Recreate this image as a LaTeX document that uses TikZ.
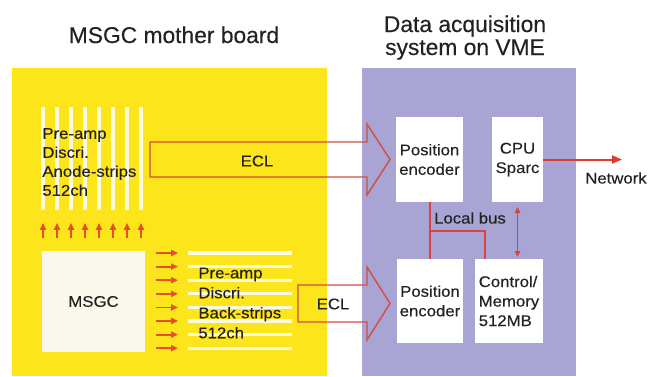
\documentclass[tikz,border=0pt]{standalone}
\usepackage{fontspec}
\setmainfont{Liberation Sans}
\newfontfamily\labelfont{Liberation Sans}[FakeStretch=1.08,FakeBold=0.3]
\newfontfamily\titlefont{Liberation Sans}[FakeBold=0.3]
\usetikzlibrary{arrows.meta}

\definecolor{boardyellow}{RGB}{252,229,26}
\definecolor{vmepurple}{RGB}{168,164,212}
\definecolor{stripwhite}{RGB}{255,251,226}
\definecolor{chipwhite}{RGB}{250,248,236}
\definecolor{feedred}{RGB}{230,80,38}
\definecolor{eclred}{RGB}{212,78,62}
\definecolor{busred}{RGB}{220,66,66}
\definecolor{netred}{RGB}{222,58,50}
\definecolor{inkgray}{RGB}{34,34,34}

\begin{document}
\begin{tikzpicture}[x=0.5pt,y=-0.5pt,
  board/.style={inner sep=0pt, outer sep=0pt},
  unit/.style={fill=white, inner sep=0pt, outer sep=0pt, align=center,
    text=inkgray, font=\labelfont\fontsize{7.75}{9.75}\selectfont},
  lbl/.style={inner sep=0pt, text=inkgray,
    font=\labelfont\fontsize{7.75}{9.5}\selectfont},
  widelbl/.style={lbl, font=\labelfont\fontsize{7.75}{10}\selectfont},
  title/.style={inner sep=0pt, text=inkgray, font=\titlefont\fontsize{11.4}{11.5}\selectfont},
  strip/.style={draw=stripwhite, line width=1.6pt},
  feed/.style={draw=feedred, line width=0.9pt, -{Triangle[length=3.4pt,width=3pt]}},
  ecl/.style={draw=eclred, line width=0.7pt, line join=miter},
  bus/.style={draw=busred, line width=0.9pt},
  link/.style={draw=busred, line width=0.6pt,
    {Triangle[length=3pt,width=2.8pt]}-{Triangle[length=3pt,width=2.8pt]}},
  net/.style={draw=netred, line width=1pt, -{Triangle[length=5pt,width=4pt]}}
]
\useasboundingbox (0,0) rectangle (660,376);

% titles
\node[title, anchor=base] (title1) at (174,43) {MSGC mother board};
\node[title, anchor=base] (title2a) at (465,32) {Data acquisition};
\node[title, anchor=base] (title2b) at (465,55) {system on VME};

% the two boards
\node[board, fill=boardyellow, minimum width=157.5pt, minimum height=154pt]
  (mother) at (169.5,222) {};
\node[board, fill=vmepurple, minimum width=107pt, minimum height=154pt]
  (vme) at (469,222) {};

% anode strips (vertical) and their read-out arrows
\foreach \i in {0,...,7} {
  \draw[strip] (43+14*\i,107) -- (43+14*\i,210);
  \draw[feed] (43+14*\i,238) -- (43+14*\i,223);
}

% back strips (horizontal) and their read-out arrows
\foreach \i in {0,...,7} {
  \draw[strip] (188,253+13.6*\i) -- (292,253+13.6*\i);
  \draw[feed] (156,253+13.6*\i) -- (178,253+13.6*\i);
}

% detector chip
\node[unit, fill=chipwhite, minimum width=51.5pt, minimum height=50.5pt]
  (msgc) at (93.5,301.5) {MSGC};

% front-end labels
\node[lbl, align=left, anchor=west] (anodetxt) at (42,162)
  {Pre-amp\\Discri.\\Anode-strips\\512ch};
\node[widelbl, align=left, anchor=west] (backtxt) at (198,303)
  {Pre-amp\\Discri.\\Back-strips\\512ch};

% ECL block arrows
\draw[ecl] (150,142) -- (367,142) -- (367,124) -- (390,159.5)
  -- (367,195) -- (367,177) -- (150,177) -- cycle;
\node[lbl] (ecl1) at (257,161) {ECL};
\draw[ecl] (298,285) -- (367,285) -- (367,267) -- (390,303.5)
  -- (367,340) -- (367,322) -- (298,322) -- cycle;
\node[lbl] (ecl2) at (333,304) {ECL};

% VME modules
\node[unit, minimum width=33.5pt, minimum height=42.5pt]
  (pe1) at (429.5,159.5) {Position\\encoder};
\node[unit, minimum width=25.5pt, minimum height=42.5pt]
  (cpu) at (517.5,159.5) {CPU\\Sparc};
\node[unit, minimum width=33pt, minimum height=42pt]
  (pe2) at (430,301) {Position\\encoder};
\node[unit, align=left, minimum width=34pt, minimum height=42pt]
  (ctl) at (509,301) {Control/\\Memory\\512MB};

% local bus
\coordinate (busL) at (430,231);
\coordinate (busR) at (485,231);
\draw[bus] (pe1.south -| busL) -- (pe2.north -| busL);
\draw[bus] (busL) -- (busR) -- (busR |- ctl.north);
\node[lbl] (bustxt) at (470,218) {Local bus};

% CPU <-> memory
\draw[link] ([yshift=-2.5pt]cpu.south) -- ([yshift=1pt]cpu.south |- ctl.north);

% network output
\coordinate (netend) at (622,159.5);
\draw[net] (cpu.east) -- (netend);
\node[lbl] (nettxt) at (616,178) {Network};
\end{tikzpicture}
\end{document}
